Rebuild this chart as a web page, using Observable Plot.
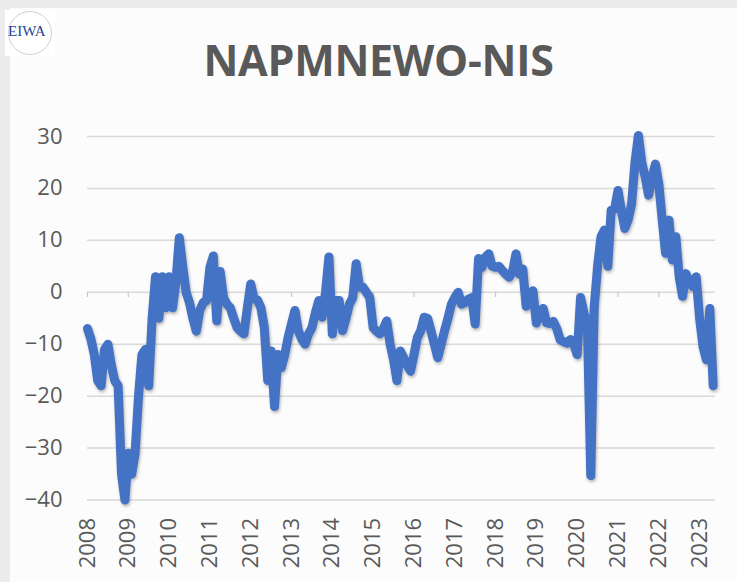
<!DOCTYPE html>
<html>
<head>
<meta charset="utf-8">
<script src="https://cdn.jsdelivr.net/npm/d3@7"></script>
<script src="https://cdn.jsdelivr.net/npm/@observablehq/plot@0.6"></script>
<style>
  html, body { margin: 0; padding: 0; }
  body { width: 737px; height: 582px; background: #ececec; position: relative; overflow: hidden; font-family: "Open Sans", sans-serif; }
  #card { position: absolute; left: 10px; top: 8px; width: 727px; height: 574px; background: #fcfcfc; }
  #chart { position: absolute; left: 0; top: 0; }
  #title { position: absolute; left: 0; width: 757px; top: 30px; text-align: center; font-family: "Open Sans", sans-serif; font-weight: 700; font-size: 43px; color: #595959; letter-spacing: -0.3px; }
  #logo { position: absolute; left: 5px; top: 10px; width: 50px; height: 46px; background: #fff; }
  #logo .ring { position: absolute; left: 3px; top: 1px; width: 44px; height: 44px; border-radius: 50%; border: 1px solid #cfcfcf; box-sizing: border-box; }
  #logo .txt { position: absolute; left: 3px; top: 13px; font-family: "Liberation Serif", serif; font-size: 15px; color: #2d3f8e; }
  g[aria-label="line"] path { filter: drop-shadow(1px 2px 1.5px rgba(0,0,0,0.28)); }
</style>
</head>
<body>
<div id="card"></div>
<div id="chart"></div>
<div id="logo"><div class="ring"></div><div class="txt">EIWA</div></div>
<div id="title">NAPMNEWO-NIS</div>
<script>
const title = "NAPMNEWO-NIS";
const startYear = 2008;
// monthly values, Jan 2008 .. May 2023
const values = [
  -7, -9, -12, -17, -18, -11, -10, -14, -17, -18, -35, -40,   // 2008
  -31, -35, -31, -20, -12, -11, -18, -5, 3, -5, 3, -3,          // 2009
  3, -3, 2, 10.5, 5, 0, -2, -5, -7.5, -3.5, -2, -1.6,           // 2010
  4.8, 7, -5.5, 4, -1, -2.3, -3, -5, -6.8, -7.5, -8, -3,        // 2011
  1.6, -1.3, -1.5, -3, -6.8, -17, -11.3, -22, -12, -14.5, -12, -8.7, // 2012
  -6, -3.5, -7.4, -9, -10, -8, -6.8, -4, -1.6, -4.8, 0, 6.8,    // 2013
  -8, -1.6, -1.6, -7.4, -5, -2.3, -1, 5.5, 1, 1, 0, -1,         // 2014
  -6.8, -7.5, -8, -7, -5.5, -10, -13, -17, -11.3, -12.6, -14, -15.2, // 2015
  -12, -8.7, -7.4, -4.8, -5, -7.4, -10, -12.6, -10, -7.4, -5, -2.3, // 2016
  -1, 0, -2.3, -2, -1.3, -1, -6.1, 6.5, 4.8, 6.8, 7.4, 5,       // 2017
  4.8, 5, 4.2, 3.5, 2.9, 4, 7.4, 3.5, 4.5, -2.7, -1, 0.3,       // 2018
  -5.9, -4, -3.1, -5.9, -6, -5.6, -7, -9.1, -9.5, -9.8, -9.1, -10, // 2019
  -12, -1, -4, -6, -35.3, -3, 5, 10.7, 12, 5, 15.8, 16,         // 2020
  19.6, 15.8, 12.3, 14, 17, 25, 30.2, 25, 22.2, 18.7, 22, 24.7, // 2021
  20.9, 14, 7.5, 13.9, 6.2, 10.7, 3, -0.8, 3.6, 2, 1.1, 3,      // 2022
  -5, -10.4, -13, -3.1, -18                                     // 2023
];
const yearTicks = [2008, 2009, 2010, 2011, 2012, 2013, 2014, 2015, 2016, 2017, 2018, 2019, 2020, 2021, 2022, 2023];
const yTicks = [30, 20, 10, 0, -10, -20, -30, -40];

const data = values.map((v, i) => ({t: startYear + i / 12, v}));

const chart = Plot.plot({
  width: 737,
  height: 582,
  marginTop: 136,
  marginBottom: 82.5,
  marginLeft: 87,
  marginRight: 22,
  style: {background: "transparent", color: "#595959", fontFamily: "Open Sans, sans-serif"},
  x: {domain: [2008, 2023.39]},
  y: {domain: [-40, 30]},
  marks: [
    Plot.ruleY(yTicks, {stroke: "#d9d9d9", strokeWidth: 1.5}),
    Plot.ruleX(yearTicks, {x: d => d, y1: 0, y2: -1, stroke: "#c8c8c8", strokeWidth: 1.2}),
    Plot.axisY(yTicks, {tickSize: 0, tickPadding: 25, fontSize: 22, anchor: "left", label: null}),
    Plot.axisX(yearTicks, {tickSize: 0, tickPadding: 18, tickRotate: -90, fontSize: 22, tickFormat: d => String(d), label: null}),
    Plot.line(data, {x: "t", y: "v", stroke: "#4472C4", strokeWidth: 9, strokeLinejoin: "round", strokeLinecap: "round"})
  ]
});
document.getElementById("chart").appendChild(chart);
</script>
</body>
</html>
